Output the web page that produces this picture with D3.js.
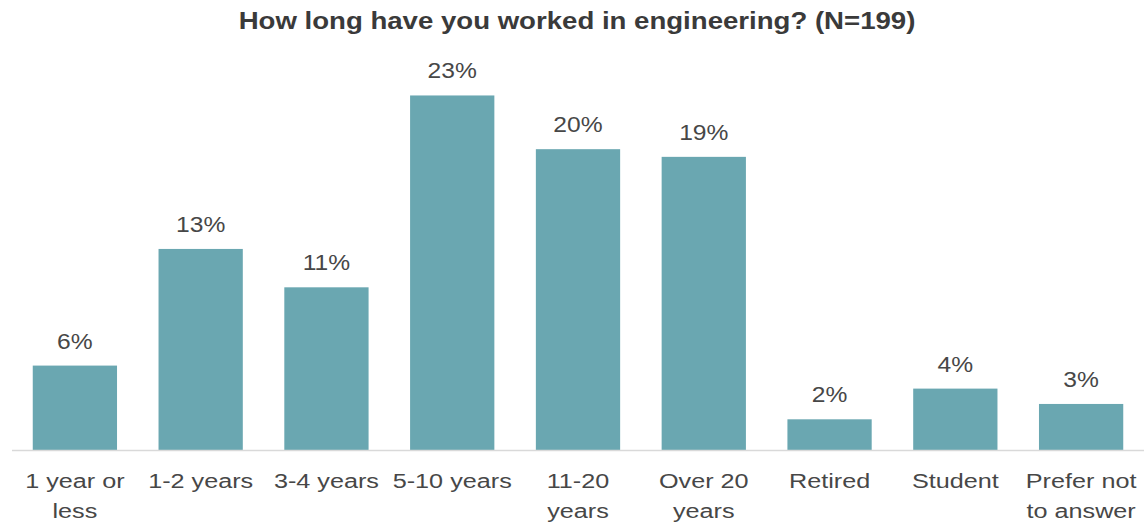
<!DOCTYPE html>
<html><head><meta charset="utf-8">
<script src="https://cdn.jsdelivr.net/npm/d3@7"></script>
<style>body{margin:0;background:#fff;}svg{display:block;font-family:"Liberation Sans",Arial,sans-serif;}</style>
</head><body>
<svg id="c" width="1144" height="525"></svg>
<script>
const categories = ["1 year or\nless","1-2 years","3-4 years","5-10 years","11-20\nyears","Over 20\nyears","Retired","Student","Prefer not\nto answer"];
const values = [5.5, 13.1, 10.6, 23.1, 19.6, 19.1, 2.0, 4.0, 3.0];
const valueLabels = ["6%","13%","11%","23%","20%","19%","2%","4%","3%"];
const title = "How long have you worked in engineering? (N=199)";

const svg = d3.select("#c");
const x = d3.scaleBand().domain(categories).range([12, 1144]).paddingInner(0.33).paddingOuter(0.165);
const y = d3.scaleLinear().domain([0, 25]).range([450, 66.3]);

svg.append("g").attr("transform","translate(577,29) scale(1.2,1)")
  .append("text").attr("text-anchor","middle")
  .attr("font-size", 23).attr("font-weight","bold").attr("fill","#3a3a3a").text(title);

svg.selectAll("rect.bar").data(values).join("rect").attr("class","bar")
  .attr("x",(d,i)=>x(categories[i])).attr("width",x.bandwidth())
  .attr("y",d=>y(d)).attr("height",d=>y(0)-y(d)).attr("fill","#6aa7b1");

svg.append("line").attr("x1",12).attr("x2",1144).attr("y1",y(0)+0.5).attr("y2",y(0)+0.5)
  .attr("stroke","#d9d9d9").attr("stroke-width",1.5);

svg.selectAll("g.val").data(values).join("g").attr("class","val")
  .attr("transform",(d,i)=>`translate(${x(categories[i])+x.bandwidth()/2},${y(d)-17}) scale(1.12,1)`)
  .append("text").attr("text-anchor","middle").attr("font-size",22).attr("fill","#474747")
  .text((d,i)=>valueLabels[i]);

const xa = svg.append("g").attr("transform",`translate(0,${y(0)})`)
  .call(d3.axisBottom(x).tickSize(0).tickFormat(""));
xa.select(".domain").remove();
xa.selectAll(".tick").each(function(d){
  const t = d3.select(this).append("g").attr("transform","scale(1.2,1)")
    .append("text").attr("text-anchor","middle")
    .attr("font-size",21).attr("fill","#474747");
  d.split("\n").forEach((line,j)=>{
    t.append("tspan").attr("x",0).attr("y",38 + j*30).text(line);
  });
});
</script>
</body></html>
